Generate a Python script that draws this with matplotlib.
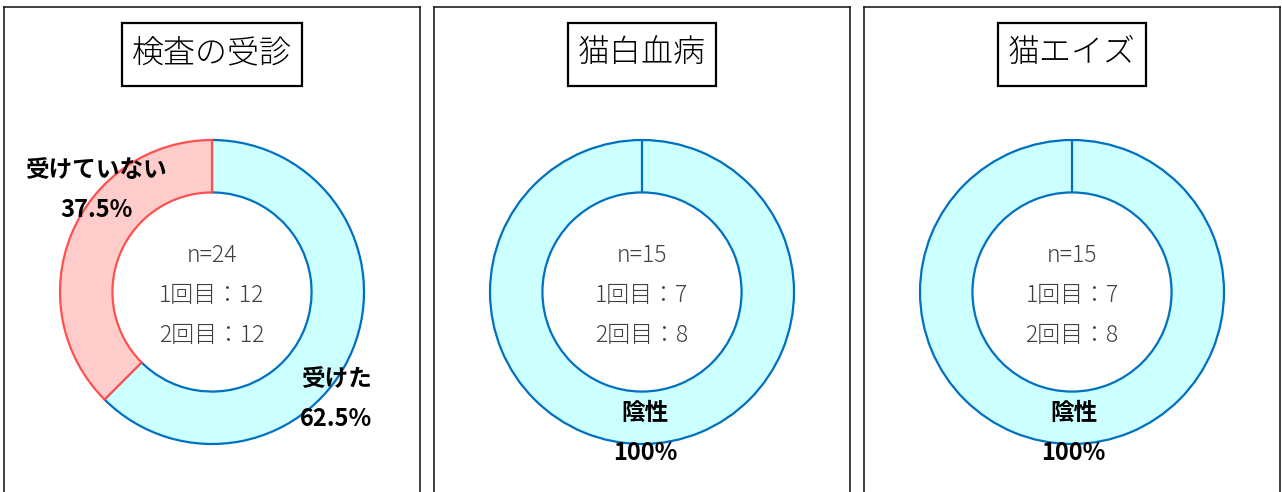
import matplotlib.pyplot as plt
from matplotlib.patches import Rectangle

plt.rcParams['font.family'] = ['Noto Sans CJK JP', 'DejaVu Sans']

# chart data
titles = ['検査の受診', '猫白血病', '猫エイズ']
categories = [['受けた', '受けていない'], ['陰性', '陽性'], ['陰性', '陽性']]
counts = [[15, 9], [15, 0], [15, 0]]
n_total = [24, 15, 15]
first_round = [12, 7, 7]
second_round = [12, 8, 8]

FILLS = ['#CCFFFF', '#FFCCCC']
EDGES = ['#0070C0', '#FF5050']

W, H = 1282, 492
R = 152.0          # donut radius in pixels
CY = 292           # donut centre (pixels from top)
panel_left = [4, 434, 864]
panel_width = 416
donut_cx = [212, 642, 1072]

# label positions (data units, relative to donut centre) for each panel
label_pos = [
    {0: (0.816, -0.572), 1: (-0.763, 0.803)},
    {0: (0.02, -0.796)},
    {0: (0.01, -0.796)},
]


def fmt_pct(v, total):
    p = v / total * 100
    return f"{p:.1f}".rstrip('0').rstrip('.') + '%'


def draw_panel(fig, i):
    x0 = panel_left[i]
    ax = fig.add_axes([x0 / W, -10 / H, panel_width / W, (H - 7 + 10) / H])

    vals = counts[i]
    wedges, _ = ax.pie(vals, colors=FILLS, startangle=90, counterclock=False,
                       radius=1, wedgeprops=dict(width=0.345, linewidth=1.6))
    for k, w in enumerate(wedges):
        w.set_edgecolor(EDGES[0] if vals[k] == 0 else EDGES[k])

    cx = donut_cx[i]
    ax.set_aspect('auto')
    ax.set_xlim((x0 - cx) / R, (x0 + panel_width - cx) / R)
    ax.set_ylim((CY - (H + 10)) / R, (CY - 7) / R)
    ax.set_frame_on(True)
    for s in ax.spines.values():
        s.set_color('#202020')
        s.set_linewidth(1.2)
    ax.set_xticks([])
    ax.set_yticks([])

    # title (box drawn afterwards around its measured width)
    title = ax.text(0, (CY - 53) / R, titles[i], ha='center', va='center',
                    fontsize=23, fontweight='light', color='black')

    # centre text
    centre = [f"n={n_total[i]}", f"1回目：{first_round[i]}", f"2回目：{second_round[i]}"]
    step = 40 / R
    for j, line in enumerate(centre):
        ax.text(0, -0.02 + step * (1 - j), line, ha='center', va='center',
                fontsize=16.5, fontweight='light', color='#404040')

    # data labels
    total = sum(vals)
    for k, (lx, ly) in label_pos[i].items():
        ax.text(lx, ly, categories[i][k], ha='center', va='center',
                fontsize=17, fontweight='bold', color='black')
        ax.text(lx, ly - step, fmt_pct(vals[k], total), ha='center', va='center',
                fontsize=17, fontweight='bold', color='black')
    return ax, title


def main():
    fig = plt.figure(figsize=(W / 100, H / 100), dpi=100)
    panels = [draw_panel(fig, i) for i in range(len(titles))]

    fig.canvas.draw()
    renderer = fig.canvas.get_renderer()
    for i, (ax, title) in enumerate(panels):
        bb = title.get_window_extent(renderer)
        bw = bb.width + 20
        bh = 63
        left = (donut_cx[i] - bw / 2 - panel_left[i]) / R + ax.get_xlim()[0]
        bottom = (CY - 86) / R
        ax.add_patch(Rectangle((left, bottom), bw / R, bh / R, fc='white',
                               ec='black', lw=1.6, zorder=1))
        title.set_zorder(2)

    fig.savefig('out.png', dpi=100, facecolor='white')


if __name__ == "__main__":
    main()
